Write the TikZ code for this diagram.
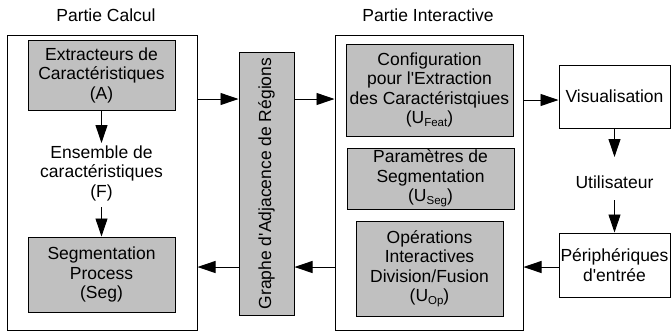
\documentclass[tikz,border=0pt]{standalone}
\usepackage{fontspec}
\setmainfont{Liberation Sans}[Ligatures=TeXOff]
\usetikzlibrary{arrows.meta}
\definecolor{boxgray}{RGB}{192,192,192}
\newcommand{\sbs}[1]{\raisebox{-0.15em}{\fontsize{11.5}{12}\selectfont #1}}
\tikzset{
  frame/.style={draw, line width=1pt, fill=white},
  gbox/.style={draw, line width=1pt, fill=boxgray, align=center, inner sep=0pt},
  wbox/.style={draw, line width=1pt, fill=white, align=center, inner sep=0pt},
  lbl/.style={align=center, inner sep=0pt},
  arr/.style={line width=0.9pt, -{Triangle[length=18pt,width=12pt]}},
}
\begin{document}
\begin{tikzpicture}[x=1pt,y=-1pt, font=\fontsize{17.5}{19.5}\selectfont]
\useasboundingbox (0,0) rectangle (671,333);
% titles
\node[lbl] (t1) at (106,15) {Partie Calcul};
\node[lbl] (t2) at (428,15) {Partie Interactive};
% outer frames
\node[frame, minimum width=190, minimum height=295] (outerL) at (102,182.5) {};
\node[frame, minimum width=188, minimum height=295] (outerR) at (429,182.5) {};
% left part
\node[gbox, minimum width=147, minimum height=70] (A) at (101.5,75) {Extracteurs de\\Caractéristiques\\(A)};
\node[lbl] (F) at (101.5,173) {Ensemble de\\caractéristiques\\(F)};
\node[gbox, minimum width=147, minimum height=75] (Seg) at (101.5,274.5) {Segmentation\\Process\\(Seg)};
% graph
\node[gbox, minimum width=55, minimum height=263] (G) at (266.5,183.5) {};
\node[lbl, rotate=90] (Gt) at (G.center) {Graphe d'Adjacence de Régions};
% right part
\node[gbox, minimum width=167, minimum height=92] (Conf) at (429.5,90) {Configuration\\pour l'Extraction\\des Caractéristqiues\\(U\sbs{Feat})};
\node[gbox, minimum width=167, minimum height=61] (Par) at (430.5,178.5) {Paramètres de\\Segmentation\\(U\sbs{Seg})};
\node[gbox, minimum width=147, minimum height=95] (Op) at (429.5,268.5) {Opérations\\Interactives\\Division/Fusion\\(U\sbs{Op})};
% user side
\node[wbox, minimum width=111, minimum height=63] (Vis) at (614.5,96.5) {Visualisation};
\node[lbl] (U) at (614.5,182) {Utilisateur};
\node[wbox, minimum width=111, minimum height=64] (Per) at (614.5,265) {Périphériques\\d'entrée};
% helper coordinates
\coordinate (yu) at (0,99);
\coordinate (yv) at (0,100);
\coordinate (yd) at (0,267);
\coordinate (f1) at (101.5,143);
\coordinate (f2) at (101.5,207);
\coordinate (u1) at (614.5,157);
\coordinate (u2) at (614.5,200);
% arrows
\draw[arr] (A.south) -- (f1);
\draw[arr] (f2) -- (Seg.north);
\draw[arr] (outerL.east |- yu) -- (G.west |- yu);
\draw[arr] (G.east |- yu) -- (outerR.west |- yu);
\draw[arr] (outerR.east |- yv) -- (Vis.west |- yv);
\draw[arr] (Vis.south) -- (u1);
\draw[arr] (u2) -- (Per.north);
\draw[arr] (Per.west |- yd) -- (outerR.east |- yd);
\draw[arr] (outerR.west |- yd) -- (G.east |- yd);
\draw[arr] (G.west |- yd) -- (outerL.east |- yd);
\end{tikzpicture}
\end{document}
